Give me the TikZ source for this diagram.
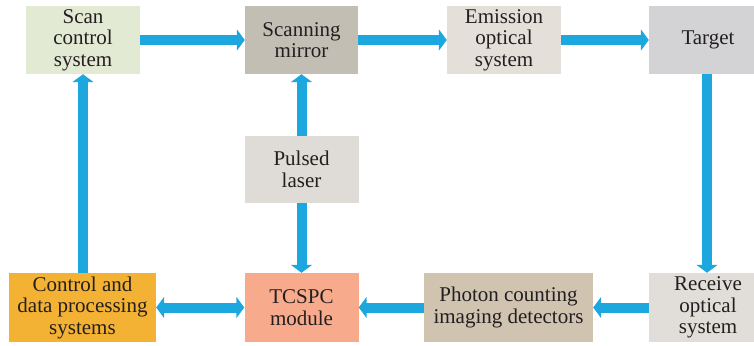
\documentclass[tikz,border=0pt]{standalone}
\usepackage{fontspec}
\setmainfont{LiberationSerif}[Extension=.ttf, UprightFont=*-Regular, BoldFont=*-Bold]
\usetikzlibrary{arrows.meta}
\definecolor{flow}{HTML}{1DA7DF}
\definecolor{cScan}{HTML}{E2EAD3}
\definecolor{cMirror}{HTML}{C3BEB3}
\definecolor{cEmis}{HTML}{E4DFD9}
\definecolor{cTarget}{HTML}{D3D3D5}
\definecolor{cLaser}{HTML}{DFDBD6}
\definecolor{cCtrl}{HTML}{F3B233}
\definecolor{cTcspc}{HTML}{F7AB8C}
\definecolor{cPhoton}{HTML}{D0C3B0}
\definecolor{cRecv}{HTML}{E1DED9}
\definecolor{ink}{HTML}{231F20}
\tikzset{
  blk/.style={minimum height=68pt, inner sep=0pt, align=center, text=ink,
    font=\fontsize{21}{21.5}\selectfont},
  flowarrow/.style={draw=flow, line width=10pt, -{Triangle[width=21pt,length=8pt]}},
  flowboth/.style={draw=flow, line width=10pt, {Triangle[width=21pt,length=8pt]}-{Triangle[width=21pt,length=8pt]}},
}
\begin{document}
\begin{tikzpicture}[x=1pt,y=-1pt]
\useasboundingbox (0,0) rectangle (754,345);
\begin{scope}
\clip (0,0) rectangle (754,345);
\node[blk, fill=cScan, minimum width=114pt] (scan) at (83,40) {Scan\\control\\system};
\node[blk, fill=cMirror, minimum width=113pt] (mirror) at (301.5,40) {Scanning\\mirror};
\node[blk, fill=cEmis, minimum width=114pt] (emis) at (504,40) {Emission\\optical\\system};
\node[blk, fill=cTarget, minimum width=118pt] (target) at (708,40) {Target};
\node[blk, fill=cLaser, minimum width=114pt, minimum height=67pt] (laser) at (301.5,169.5) {Pulsed\\laser};
\node[blk, fill=cCtrl, minimum width=147pt, minimum height=69pt] (ctrl) at (82.5,307.5) {Control and\\data processing\\systems};
\node[blk, fill=cTcspc, minimum width=114pt, minimum height=69pt] (tcspc) at (301.5,307.5) {TCSPC\\module};
\node[blk, fill=cPhoton, minimum width=169pt, minimum height=69pt] (photon) at (508.5,307.5) {Photon counting\\imaging detectors};
\node[blk, fill=cRecv, minimum width=118pt, minimum height=69pt] (recv) at (708,307.5) {Receive\\optical\\system};

\draw[flowarrow] (scan.east) -- (mirror.west);
\draw[flowarrow] (mirror.east) -- (emis.west);
\draw[flowarrow] (emis.east) -- (target.west);
\draw[flowarrow] (target.south -| 707,0) -- (recv.north -| 707,0);
\draw[flowarrow] (recv.west) -- (photon.east);
\draw[flowarrow] (photon.west) -- (tcspc.east);
\draw[flowboth] (ctrl.east) -- (tcspc.west);
\draw[flowarrow] (ctrl.north -| scan.south) -- (scan.south);
\draw[flowarrow] (laser.north) -- (mirror.south);
\draw[flowarrow] (laser.south) -- (tcspc.north);
\end{scope}
\end{tikzpicture}
\end{document}
